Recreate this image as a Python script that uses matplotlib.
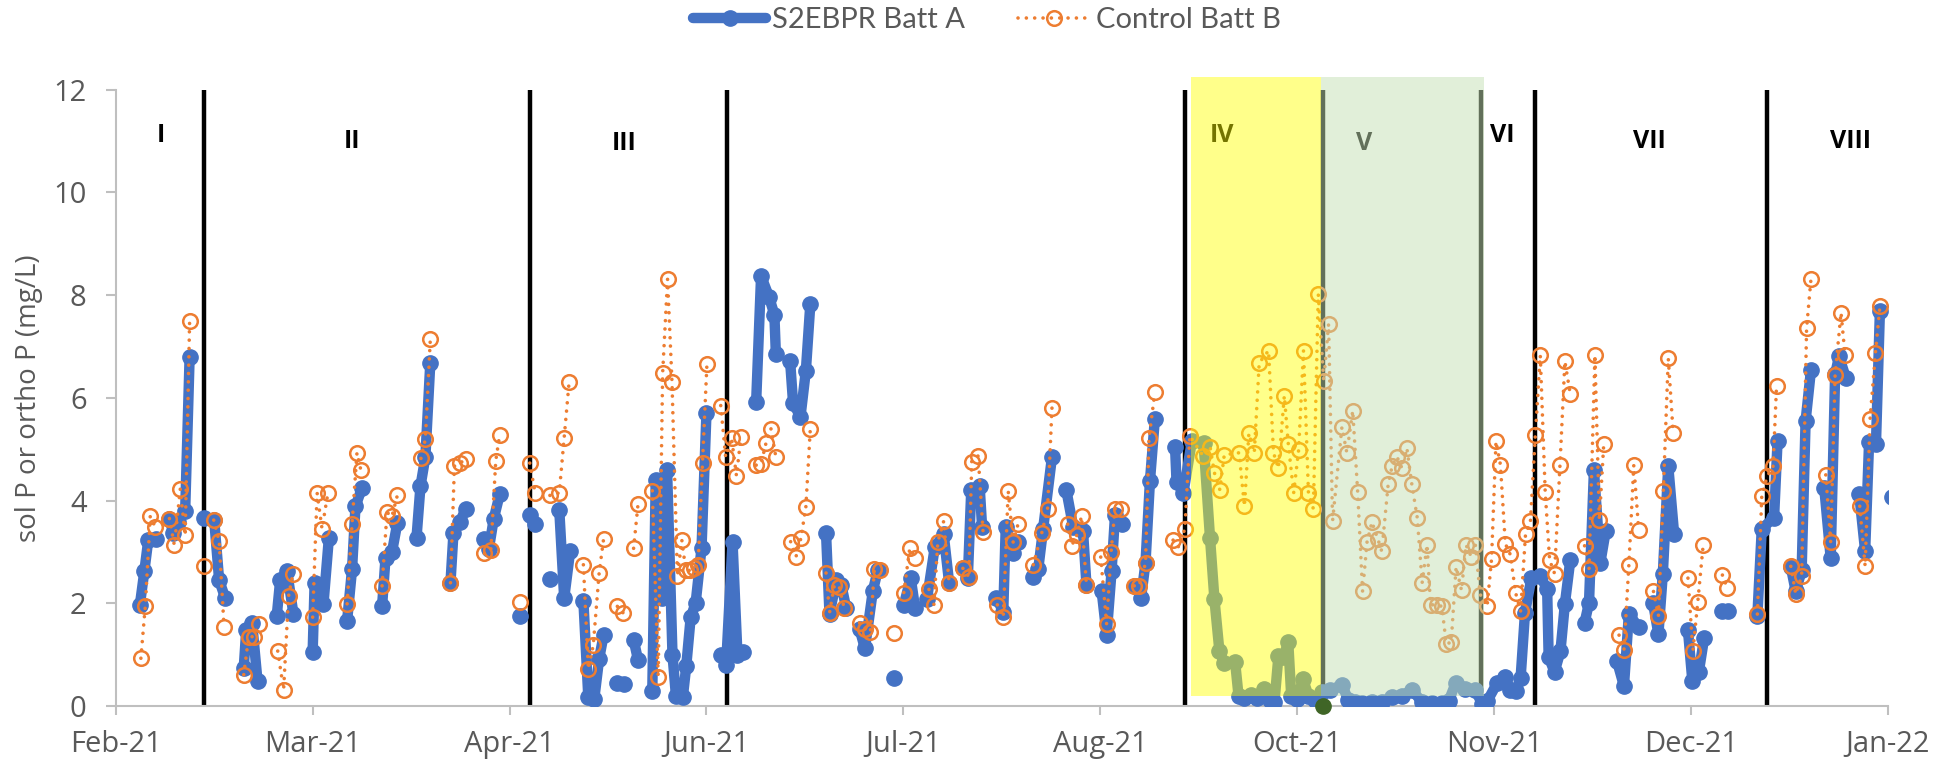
import numpy as np
import matplotlib
matplotlib.use("Agg")
import matplotlib.pyplot as plt
from matplotlib.patches import Rectangle

# x = days after the first axis tick (Feb-21); nan = gap in the series
batt_a_day = [4.9, 5.8, 6.6, 8.2, np.nan,
              10.9, 11.7, 12.7, 14.1, 15.0, np.nan,
              18.0, np.nan,
              20.0, 21.0, 22.2, np.nan,
              26.0, 26.5, 27.7, 28.8, np.nan,
              32.7, 33.4, 34.8, 36.1, np.nan,
              40.0, 40.4, 42.2, 43.3, np.nan,
              47.0, 48.0, 48.7, 50.0, np.nan,
              54.1, 54.8, 56.1, 57.2, np.nan,
              61.1, 61.9, 62.9, 63.9, np.nan,
              68.0, 68.6, 69.9, 71.1, np.nan,
              74.9, 75.8, 76.8, 78.0, np.nan,
              82.1, np.nan,
              84.1, 85.2, np.nan,
              88.2, np.nan,
              90.1, 91.1, 92.3, np.nan,
              95.0, 96.0, 97.2, 98.2, 99.1, np.nan,
              101.9, 103.3, np.nan,
              105.2, 106.1, np.nan,
              109.0, 109.7, 111.0, 112.0, 113.1, 113.8, 115.2, 115.9, 116.8, 117.8, 119.0, 120.0, np.nan,
              122.9, 124.0, 125.3, 126.3, 127.4, np.nan,
              130.1, 131.1, 132.7, 133.8, 134.1, np.nan,
              137.0, 137.6, 139.1, 140.2, 141.1, np.nan,
              144.3, 145.0, 146.4, 147.4, 148.4, np.nan,
              151.1, 152.2, 153.8, 154.8, np.nan,
              158.1, np.nan,
              160.1, 161.5, 162.4, np.nan,
              164.8, 166.4, 168.2, 169.3, np.nan,
              172.1, 173.1, 173.8, 175.5, 176.0, np.nan,
              178.9, 180.3, 180.8, 182.3, 183.3, np.nan,
              186.4, 187.4, 188.4, 190.2, np.nan,
              193.1, 194.5, 196.5, 197.2, np.nan,
              200.3, 201.3, 202.3, 203.0, 204.5, np.nan,
              207.1, 208.3, 209.2, 210.1, 211.1, np.nan,
              215.2, 215.5, 216.9, 218.6, 221.0, 222.3, 223.2, 224.2, 225.1, 227.4, 228.1, 229.3,
              230.6, 231.8, 233.2, 234.5, 235.4, 236.2, 237.2, 238.2, 238.8, 240.0, 241.2, 242.3,
              243.6, 245.0, 246.7, 249.1, 250.4, 251.8, 253.2, 255.2, 257.2, 259.3, 261.3, 263.3,
              265.4, 267.4, 269.4, 270.8, 272.2, 274.2, 276.2, 277.6, 278.6, 280.6, 282.3, 283.3,
              284.4, 285.4, 286.3, 287.6, 289.4, 290.8, 291.1, 292.3, 293.5, 294.4, 295.5, np.nan,
              298.4, 299.3, 300.3, 301.6, 302.7, np.nan,
              305.0, 306.4, 307.4, 309.4, np.nan,
              312.3, 313.4, 314.3, 315.4, 316.6, np.nan,
              319.4, 320.3, 321.6, 322.7, np.nan,
              326.4, 327.5, np.nan,
              333.5, 334.4, 336.9, 337.6, np.nan,
              340.3, 341.3, 342.5, 343.3, 344.4, np.nan,
              347.1, 348.4, 349.3, 350.1, 351.5, np.nan,
              354.2, 355.4, 356.2, 357.6, 358.4, np.nan,
              360.8]
batt_a_p = [1.97, 2.62, 3.23, 3.25, np.nan,
            3.65, 3.36, 3.58, 3.80, 6.79, np.nan,
            3.67, np.nan,
            3.62, 2.45, 2.11, np.nan,
            0.74, 1.48, 1.62, 0.48, np.nan,
            1.75, 2.45, 2.62, 1.79, np.nan,
            1.05, 2.40, 1.99, 3.28, np.nan,
            1.66, 2.66, 3.89, 4.24, np.nan,
            1.94, 2.88, 2.99, 3.56, np.nan,
            3.28, 4.28, 4.85, 6.68, np.nan,
            2.40, 3.36, 3.58, 3.84, np.nan,
            3.25, 3.06, 3.65, 4.12, np.nan,
            1.76, np.nan,
            3.71, 3.55, np.nan,
            2.47, np.nan,
            3.82, 2.10, 3.01, np.nan,
            2.05, 0.17, 0.13, 0.92, 1.38, np.nan,
            0.45, 0.42, np.nan,
            1.29, 0.90, np.nan,
            0.30, 4.40, 2.10, 4.60, 1.00, 0.20, 0.17, 0.78, 1.73, 2.00, 3.07, 5.70, np.nan,
            1.00, 0.80, 3.19, 1.00, 1.05, np.nan,
            5.92, 8.37, 7.97, 7.62, 6.86, np.nan,
            6.71, 5.90, 5.63, 6.53, 7.82, np.nan,
            3.36, 1.79, 2.45, 2.36, 1.90, np.nan,
            1.50, 1.12, 2.24, 2.64, np.nan,
            0.54, np.nan,
            1.97, 2.49, 1.90, np.nan,
            2.08, 3.10, 3.34, 2.40, np.nan,
            2.68, 2.49, 4.21, 4.28, 3.49, np.nan,
            2.11, 1.83, 3.48, 2.97, 3.19, np.nan,
            2.52, 2.66, 3.45, 4.85, np.nan,
            4.21, 3.49, 3.41, 2.36, np.nan,
            2.23, 1.38, 2.62, 3.71, 3.54, np.nan,
            2.34, 2.11, 2.79, 4.38, 5.59, np.nan,
            5.05, 4.37, 4.15, 5.15, 5.12, 3.28, 2.08, 1.08, 0.84, 0.86, 0.20, 0.15,
            0.22, 0.16, 0.34, 0.12, 0.08, 0.97, 0.95, 1.24, 0.20, 0.14, 0.52, 0.20,
            0.12, 0.28, 0.31, 0.41, 0.12, 0.07, 0.05, 0.08, 0.08, 0.18, 0.20, 0.31,
            0.08, 0.05, 0.05, 0.10, 0.44, 0.34, 0.31, 0.04, 0.09, 0.44, 0.57, 0.31,
            0.30, 0.54, 1.82, 2.49, 2.53, 2.27, 0.96, 0.66, 1.07, 1.99, 2.84, np.nan,
            1.62, 2.01, 4.59, 2.79, 3.41, np.nan,
            0.87, 0.39, 1.79, 1.53, np.nan,
            2.01, 1.40, 2.58, 4.67, 3.34, np.nan,
            1.48, 0.48, 0.66, 1.33, np.nan,
            1.85, 1.85, np.nan,
            1.75, 3.45, 3.67, 5.15, np.nan,
            2.71, 2.23, 2.64, 5.55, 6.55, np.nan,
            4.24, 2.88, 6.46, 6.81, 6.38, np.nan,
            4.12, 3.01, 5.14, 5.11, 7.70, np.nan,
            4.06]

batt_b_day = [5.1, 6.0, 7.0, 8.0, np.nan,
              10.9, 11.9, 13.1, 14.1, 15.0, np.nan,
              18.0, np.nan,
              19.9, 21.0, 22.0, np.nan,
              26.0, 27.0, 28.0, 29.0, np.nan,
              32.9, 34.1, 35.1, 36.0, np.nan,
              40.0, 40.9, 41.9, 43.1, np.nan,
              47.0, 48.0, 49.0, 49.8, np.nan,
              54.1, 55.1, 56.1, 57.2, np.nan,
              62.0, 62.9, 63.9, np.nan,
              68.0, 68.8, 69.9, 71.1, np.nan,
              74.9, 76.2, 77.2, 78.0, np.nan,
              82.1, np.nan,
              84.1, 85.2, np.nan,
              88.2, 90.1, 91.1, 92.1, np.nan,
              95.0, 96.0, 97.0, 98.2, 99.1, np.nan,
              101.9, 103.1, np.nan,
              105.2, 106.1, np.nan,
              109.0, 110.2, 111.1, 112.1, 113.0, 114.1, 115.0, 115.8, 116.7, 117.5, 118.3, 119.2, 120.1, np.nan,
              122.9, 123.9, 125.1, 126.1, 127.0, np.nan,
              130.1, 131.1, 132.1, 133.1, 134.1, np.nan,
              137.1, 138.2, 139.2, 140.2, 141.1, np.nan,
              144.3, 145.0, 146.0, 147.0, 148.0, np.nan,
              151.1, 152.2, 153.3, 154.1, 155.2, np.nan,
              158.1, np.nan,
              160.1, 161.3, 162.4, np.nan,
              165.2, 166.2, 167.0, 168.2, 169.3, np.nan,
              172.1, 173.3, 173.9, 175.2, 176.2, np.nan,
              179.1, 180.3, 181.3, 182.3, 183.3, np.nan,
              186.4, 188.1, 189.3, 190.2, np.nan,
              193.4, 194.2, 195.2, 196.2, 197.2, np.nan,
              200.1, 201.3, 202.2, 203.0, 204.3, np.nan,
              206.9, 207.9, 209.2, 209.9, 211.1, np.nan,
              214.8, 215.9, 217.2, 218.2, 220.9, 222.3, 223.2, 224.3, 225.2, 228.2, 229.3, 230.2,
              231.3, 232.3, 234.2, 235.2, 236.2, 237.4, 238.2, 239.3, 240.3, 241.3, 242.3, 243.3,
              244.3, 245.4, 246.4, 247.2, 249.1, 250.1, 251.3, 252.3, 253.3, 254.2, 255.2, 256.4,
              257.2, 258.5, 259.3, 260.3, 261.3, 262.3, 263.3, 264.4, 265.4, 266.4, 267.1, 268.4,
              269.4, 270.3, 271.3, 272.3, 273.4, 274.3, 275.4, 276.2, 277.2, 278.6, 279.5, 280.4,
              281.3, 282.3, 283.3, 284.4, 285.4, 286.4, 287.4, 288.4, 289.4, 290.4, 291.3, 292.3,
              293.4, 294.4, 295.5, np.nan,
              298.4, 299.3, 300.5, 301.4, 302.3, np.nan,
              305.4, 306.4, 307.4, 308.4, 309.4, np.nan,
              312.4, 313.4, 314.4, 315.4, 316.4, np.nan,
              319.4, 320.4, 321.4, 322.5, np.nan,
              326.4, 327.4, np.nan,
              333.5, 334.4, 335.5, 336.7, 337.4, np.nan,
              340.3, 341.3, 342.5, 343.5, 344.4, np.nan,
              347.4, 348.4, 349.3, 350.5, 351.3, np.nan,
              354.3, 355.4, 356.4, 357.5, 358.4]
batt_b_p = [0.93, 1.95, 3.69, 3.49, np.nan,
            3.65, 3.13, 4.22, 3.32, 7.49, np.nan,
            2.72, np.nan,
            3.62, 3.21, 1.53, np.nan,
            0.61, 1.35, 1.35, 1.59, np.nan,
            1.07, 0.32, 2.14, 2.58, np.nan,
            1.73, 4.15, 3.45, 4.15, np.nan,
            1.99, 3.54, 4.93, 4.59, np.nan,
            2.34, 3.77, 3.69, 4.10, np.nan,
            4.82, 5.20, 7.14, np.nan,
            2.40, 4.67, 4.73, 4.80, np.nan,
            2.97, 3.04, 4.78, 5.28, np.nan,
            2.03, np.nan,
            4.73, 4.15, np.nan,
            4.10, 4.15, 5.22, 6.31, np.nan,
            2.75, 0.72, 1.18, 2.59, 3.25, np.nan,
            1.94, 1.81, np.nan,
            3.07, 3.93, np.nan,
            4.19, 0.57, 6.48, 8.31, 6.31, 2.53, 3.23, 2.64, 2.64, 2.68, 2.75, 4.73, 6.66, np.nan,
            5.85, 4.85, 5.22, 4.48, 5.24, np.nan,
            4.69, 4.72, 5.12, 5.40, 4.85, np.nan,
            3.20, 2.91, 3.27, 3.88, 5.40, np.nan,
            2.59, 1.81, 2.36, 2.31, 1.90, np.nan,
            1.62, 1.50, 1.44, 2.66, 2.64, np.nan,
            1.43, np.nan,
            2.21, 3.07, 2.88, np.nan,
            2.27, 1.97, 3.19, 3.60, 2.40, np.nan,
            2.68, 2.52, 4.76, 4.87, 3.39, np.nan,
            1.97, 1.73, 4.19, 3.19, 3.54, np.nan,
            2.75, 3.36, 3.84, 5.81, np.nan,
            3.54, 3.12, 3.32, 3.69, 2.36, np.nan,
            2.90, 1.59, 2.99, 3.84, 3.84, np.nan,
            2.34, 2.34, 2.78, 5.21, 6.11, np.nan,
            3.23, 3.10, 3.45, 5.26, 4.87, 5.05, 4.54, 4.21, 4.89, 4.93, 3.89, 5.31,
            4.93, 6.68, 6.92, 4.93, 4.63, 6.04, 5.11, 4.15, 4.98, 6.92, 4.15, 3.84,
            8.02, 6.33, 7.44, 3.60, 5.43, 4.93, 5.75, 4.17, 2.23, 3.19, 3.58, 3.25,
            3.01, 4.32, 4.67, 4.85, 4.63, 5.02, 4.32, 3.67, 2.40, 3.14, 1.97, 1.97,
            1.94, 1.21, 1.24, 2.71, 2.25, 3.14, 2.90, 3.14, 2.17, 1.94, 2.86, 5.15,
            4.70, 3.16, 2.95, 2.20, 1.85, 3.34, 3.60, 5.28, 6.83, 4.17, 2.84, 2.58,
            4.69, 6.71, 6.07, np.nan,
            3.12, 2.66, 6.83, 3.62, 5.11, np.nan,
            1.38, 1.09, 2.75, 4.69, 3.42, np.nan,
            2.23, 1.76, 4.19, 6.77, 5.31, np.nan,
            2.49, 1.07, 2.03, 3.14, np.nan,
            2.55, 2.29, np.nan,
            1.79, 4.09, 4.47, 4.67, 6.24, np.nan,
            2.72, 2.18, 2.53, 7.35, 8.32, np.nan,
            4.50, 3.19, 6.45, 7.66, 6.84, np.nan,
            3.89, 2.72, 5.59, 6.88, 7.79]

tick_days = [0, 40, 80, 120, 160, 200, 240, 280, 320, 360]
tick_labels = ["Feb-21", "Mar-21", "Apr-21", "Jun-21", "Jul-21", "Aug-21",
               "Oct-21", "Nov-21", "Dec-21", "Jan-22"]

phase_names = ["I", "II", "III", "IV", "V", "VI", "VII", "VIII"]
phase_label_day = [9.2, 48.0, 103.3, 224.7, 253.7, 281.6, 311.5, 352.5]
phase_label_y = [11.1, 11.0, 10.95, 11.1, 10.95, 11.1, 11.0, 11.0]
phase_lines = [18.0, 84.1, 124.1, 217.2, 245.2, 277.4, 288.3, 335.4]

# shaded periods IV and V (start day, end day)
period_iv = (218.4, 244.8)
period_v = (244.8, 277.9)
marker_day = [245.2]
marker_p = [0.0]

BLUE = "#4472C4"
ORANGE = "#ED7D31"
GREY = "#595959"

fig = plt.figure(figsize=(19.36, 7.65), dpi=100)
ax = fig.add_axes([0.0598, 0.0771, 0.9153, 0.8057])

ax.plot(batt_a_day, batt_a_p, color=BLUE, lw=7.5, marker="o", ms=11,
        solid_capstyle="round", solid_joinstyle="round", zorder=3,
        label="S2EBPR Batt A")
ax.plot(batt_b_day, batt_b_p, color=ORANGE, lw=2.6, linestyle=(0, (0.01, 2.3)),
        dash_capstyle="round", marker="o", ms=10.5, mfc="none", mec=ORANGE, mew=1.8,
        zorder=4, label="Control Batt B")

for d in phase_lines:
    ax.plot([d, d], [0, 12], color="black", lw=3.2, zorder=2)

for name, d, y in zip(phase_names, phase_label_day, phase_label_y):
    ax.text(d, y, name, ha="center", va="center", fontsize=18,
            fontweight="bold", family="Open Sans", color="black", zorder=5)

ax.add_patch(Rectangle((period_iv[0], 0.2), period_iv[1] - period_iv[0], 12.05,
                       facecolor="#FFFF00", alpha=0.46, edgecolor="none",
                       zorder=10, clip_on=False))
ax.add_patch(Rectangle((period_v[0], 0.2), period_v[1] - period_v[0], 12.05,
                       facecolor="#C5E0B4", alpha=0.5, edgecolor="none",
                       zorder=10, clip_on=False))
ax.plot(marker_day, marker_p, "o", color="#3F6526", ms=11, zorder=11, clip_on=False)

ax.set_xlim(0, 360)
ax.set_ylim(0, 12)
ax.set_yticks(range(0, 13, 2))
ax.set_xticks(tick_days)
ax.set_xticklabels(tick_labels)

for s in ["top", "right"]:
    ax.spines[s].set_visible(False)
for s in ["left", "bottom"]:
    ax.spines[s].set_color("#BFBFBF")
    ax.spines[s].set_linewidth(1.5)

ax.tick_params(axis="x", length=6.5, width=1.5, color="#BFBFBF", labelcolor=GREY,
               labelsize=21, pad=11)
ax.tick_params(axis="y", length=7, width=1.5, color="#BFBFBF", labelcolor=GREY,
               labelsize=21, pad=14)
for lab in ax.get_xticklabels() + ax.get_yticklabels():
    lab.set_family("Open Sans")

ax.set_ylabel("sol P or ortho P (mg/L)", fontsize=20, color=GREY, family="Open Sans")
ax.yaxis.set_label_coords(-0.041, 0.5)

fig.legend(loc="center", bbox_to_anchor=(0.51, 0.974), ncol=2, frameon=False,
           prop={"family": "Lato", "size": 21}, labelcolor=GREY,
           handlelength=2.5, handletextpad=0.2, columnspacing=1.8)

fig.savefig("out.png", dpi=100, facecolor="white")
